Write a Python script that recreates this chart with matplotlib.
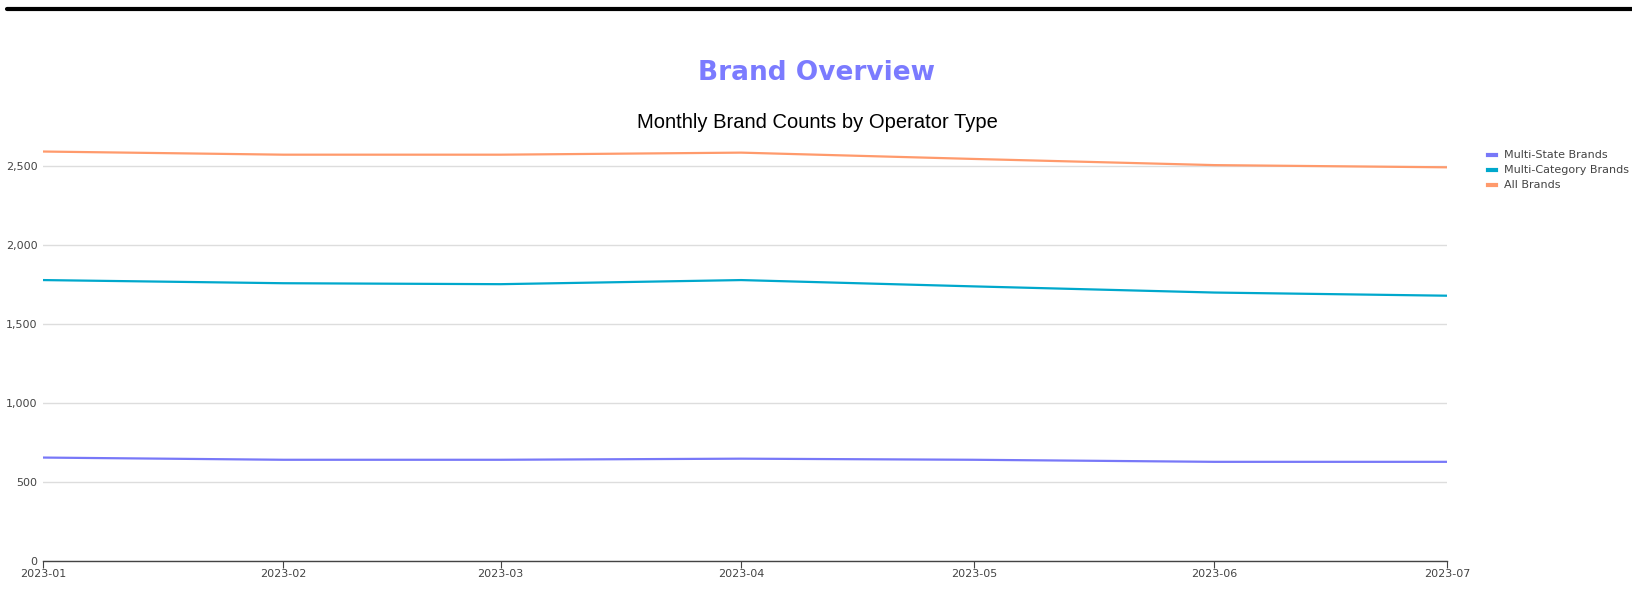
import pandas as pd
import matplotlib
matplotlib.use("Agg")
import matplotlib.pyplot as plt
import matplotlib.dates as mdates
from matplotlib.ticker import FuncFormatter

months = ['2023-01', '2023-02', '2023-03', '2023-04', '2023-05', '2023-06', '2023-07']
multi_state = [655, 641, 641, 648, 641, 628, 628]
multi_category = [1779, 1759, 1753, 1779, 1739, 1700, 1680]
all_brands = [2593, 2573, 2573, 2586, 2546, 2507, 2493]

series = [
    ('Multi-State Brands', multi_state, '#7878F8'),
    ('Multi-Category Brands', multi_category, '#00A8CC'),
    ('All Brands', all_brands, '#FF9A6C'),
]

dates = pd.to_datetime(months)

W, H = 1632, 611
fig = plt.figure(figsize=(W / 100, H / 100), dpi=100)

# plot area in pixels: left 43, right 1447, top 131, bottom 561
ax = fig.add_axes([43 / W, 1 - 561 / H, (1447 - 43) / W, (561 - 131) / H])

for name, vals, col in series:
    ax.plot(dates, vals, color=col, lw=1.6, label=name)

ax.set_xlim(dates[0], dates[-1])
ax.set_ylim(0, 2723)
ax.set_yticks([0, 500, 1000, 1500, 2000, 2500])
ax.yaxis.set_major_formatter(FuncFormatter(lambda v, p: f'{int(v):,}'))
ax.set_xticks(dates)
ax.xaxis.set_major_formatter(mdates.DateFormatter('%Y-%m'))

ax.grid(axis='y', color='#dddddd', lw=1)
ax.set_axisbelow(True)
for s in ['top', 'right', 'left']:
    ax.spines[s].set_visible(False)
ax.spines['bottom'].set_color('#444444')
ax.spines['bottom'].set_linewidth(1)
ax.tick_params(axis='y', length=0, pad=4, labelsize=8, labelcolor='#444444')
ax.tick_params(axis='x', length=5, color='#444444', pad=1, labelsize=8, labelcolor='#444444')
for lab in ax.get_xticklabels() + ax.get_yticklabels():
    lab.set_family('DejaVu Sans')

leg = fig.legend(loc='upper left', bbox_to_anchor=(1484 / W, 1 - 146 / H), frameon=False,
                 fontsize=8, handlelength=0.7, handletextpad=0.7, labelspacing=0.45,
                 borderaxespad=0, labelcolor='#444444')
for line in leg.get_lines():
    line.set_linewidth(3)

# top rule
fig.add_artist(plt.Line2D([7 / W, 1], [1 - 8.5 / H, 1 - 8.5 / H], color='black', lw=3,
                          solid_capstyle='round', transform=fig.transFigure))

fig.text(0.5, 1 - 73 / H, 'Brand Overview', ha='center', va='center', fontsize=19,
         fontweight='bold', color='#7B7BFF', family='DejaVu Sans')
fig.text(817 / W, 1 - 123 / H, 'Monthly Brand Counts by Operator Type', ha='center', va='center',
         fontsize=14.5, color='black', family='Liberation Sans')

fig.savefig('out.png', dpi=100)
